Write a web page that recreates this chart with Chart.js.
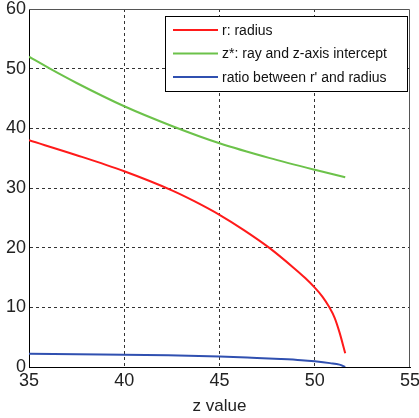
<!DOCTYPE html>
<html>
<head>
<meta charset="utf-8">
<script src="https://cdn.jsdelivr.net/npm/chart.js@4.4.0/dist/chart.umd.min.js"></script>
<style>
    html, body { margin: 0; padding: 0; background: #fff; }
    #wrap { width: 419px; height: 418px; position: relative; }
</style>
</head>
<body>
<div id="wrap"><canvas id="chart"></canvas></div>
<script>
// r: radius
const radiusZ = [35, 37.5, 40, 42.5, 43.7, 45, 46.3, 47.6, 48.9, 49.5, 50, 50.4, 50.75, 51.05, 51.3, 51.6];
const radiusValues = [38.0, 35.5, 32.8, 29.6, 27.75, 25.5, 22.9, 20.0, 16.6, 14.9, 13.3, 11.8, 10.1, 8.2, 5.8, 2.3];
// z*: ray and z-axis intercept
const interceptZ = [35, 36.1, 37.5, 40, 42.5, 45, 47.6, 50, 51.6];
const interceptValues = [52.0, 50.0, 47.6, 43.7, 40.4, 37.5, 35.05, 33.05, 31.8];
// ratio between r' and radius
const ratioZ = [35, 38.8, 42.3, 45, 46.7, 48.2, 49.3, 50, 50.8, 51.3, 51.6];
const ratioValues = [2.2, 2.1, 1.95, 1.75, 1.55, 1.35, 1.15, 0.95, 0.65, 0.4, 0.0];

const xTicks = [35, 40, 45, 50, 55];
const yTicks = [0, 10, 20, 30, 40, 50, 60];

const seriesNames = ['r: radius', 'z*: ray and z-axis intercept', "ratio between r' and radius"];
const seriesColors = ['#ff1a1a', '#6cc24a', '#3050b0'];

function toPoints(zs, values) {
    return zs.map((z, i) => ({ x: z, y: values[i] }));
}

const fontFamily = '"Liberation Sans", Arial, sans-serif';

// Рамка сверху и справа + легенда внутри области графика
const boxAndLegend = {
    id: 'boxAndLegend',
    afterDraw(chart) {
        const ctx = chart.ctx;
        const a = chart.chartArea;
        ctx.save();
        ctx.strokeStyle = '#555';
        ctx.lineWidth = 1;
        ctx.beginPath();
        ctx.moveTo(a.left, a.top + 0.5);
        ctx.lineTo(a.right - 0.5, a.top + 0.5);
        ctx.lineTo(a.right - 0.5, a.bottom);
        ctx.stroke();

        // легенда
        const lx = 165, ly = 16, lw = 242, lh = 75;
        ctx.fillStyle = '#fff';
        ctx.fillRect(lx, ly, lw, lh);
        ctx.strokeStyle = '#000';
        ctx.strokeRect(lx + 0.5, ly + 0.5, lw, lh);
        ctx.font = '14px ' + fontFamily;
        ctx.textBaseline = 'middle';
        chart.data.datasets.forEach((ds, i) => {
            const y = ly + 14 + i * 23.5;
            ctx.strokeStyle = ds.borderColor;
            ctx.lineWidth = 2;
            ctx.beginPath();
            ctx.moveTo(lx + 8, y);
            ctx.lineTo(lx + 53, y);
            ctx.stroke();
            ctx.fillStyle = '#111';
            ctx.fillText(ds.label, lx + 57, y + 1);
        });
        ctx.restore();
    }
};

function gridColor(edgeValues) {
    return ctx => (ctx.tick && edgeValues.includes(ctx.tick.value)) ? 'rgba(0,0,0,0)' : '#333';
}

new Chart(document.getElementById('chart'), {
    type: 'line',
    data: {
        datasets: [
            { label: seriesNames[0], data: toPoints(radiusZ, radiusValues), borderColor: seriesColors[0] },
            { label: seriesNames[1], data: toPoints(interceptZ, interceptValues), borderColor: seriesColors[1] },
            { label: seriesNames[2], data: toPoints(ratioZ, ratioValues), borderColor: seriesColors[2] }
        ].map(ds => Object.assign(ds, {
            borderWidth: 2,
            pointRadius: 0,
            fill: false,
            cubicInterpolationMode: 'monotone'
        }))
    },
    options: {
        responsive: true,
        maintainAspectRatio: false,
        animation: false,
        devicePixelRatio: 1,
        layout: { padding: { top: 9, right: 9, left: 0, bottom: 0 } },
        plugins: {
            legend: { display: false },
            tooltip: { enabled: false }
        },
        scales: {
            x: {
                type: 'linear',
                min: 35,
                max: 55,
                afterBuildTicks: s => { s.ticks = xTicks.map(v => ({ value: v })); },
                afterFit: s => { s.height = 51; s.paddingRight = 0; s.paddingLeft = 0; },
                ticks: {
                    color: '#222',
                    padding: 3,
                    maxRotation: 0,
                    font: { family: fontFamily, size: 18 }
                },
                grid: {
                    color: gridColor([35, 55]),
                    drawTicks: false
                },
                border: { display: true, color: '#000', width: 1, dash: [3, 3] },
                title: {
                    display: true,
                    text: 'z value',
                    color: '#222',
                    padding: { top: 0, bottom: 1 },
                    font: { family: fontFamily, size: 17 }
                }
            },
            y: {
                min: 0,
                max: 60,
                afterBuildTicks: s => { s.ticks = yTicks.map(v => ({ value: v })); },
                afterFit: s => { s.width = 29; s.paddingTop = 0; s.paddingBottom = 0; },
                ticks: {
                    color: '#222',
                    padding: 3,
                    font: { family: fontFamily, size: 18 }
                },
                grid: {
                    color: gridColor([0, 60]),
                    drawTicks: false
                },
                border: { display: true, color: '#000', width: 1, dash: [3, 3] }
            }
        }
    },
    plugins: [boxAndLegend]
});
</script>
</body>
</html>
